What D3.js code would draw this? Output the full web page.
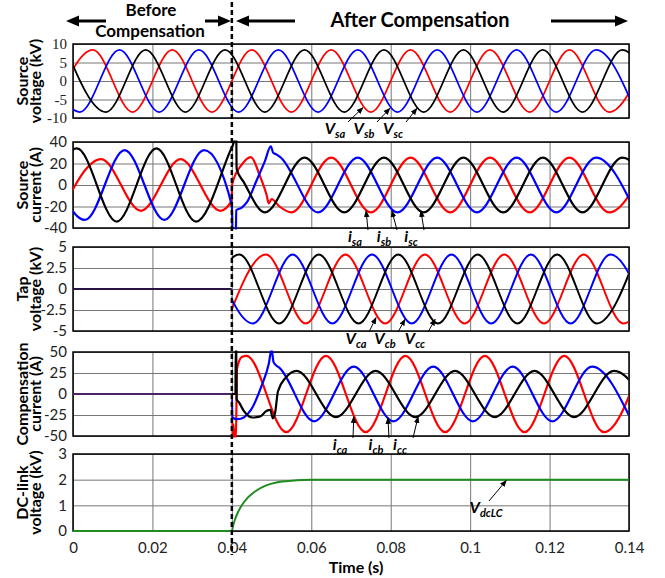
<!DOCTYPE html>
<html>
<head>
<meta charset="utf-8">
<script src="https://cdn.jsdelivr.net/npm/d3@7"></script>
<style>
  body { margin: 0; background: #fff; }
  svg { display: block; }
</style>
</head>
<body>
<main></main>
<script>
// time axis (s)
const TIME_TICKS = [0, 0.02, 0.04, 0.06, 0.08, 0.1, 0.12, 0.14];
const T_SWITCH = 0.04;

// y ticks of the five panels
const VS_TICKS = [-10, -5, 0, 5, 10];
const IS_TICKS = [-40, -20, 0, 20, 40];
const VC_TICKS = [-5, -2.5, 0, 2.5, 5];
const IC_TICKS = [-50, -25, 0, 25, 50];
const VDC_TICKS = [0, 1, 2, 3];

const TITLES = [
  ['Source', 'voltage (kV)'],
  ['Source', 'current (A)'],
  ['Tap', 'voltage (kV)'],
  ['Compensation', 'current (A)'],
  ['DC-link', 'voltage (kV)']
];

// traces given as [t, value] at the peaks / troughs (and transient corners)
const vsa = [[-0.005,-8.4],[0.005,8.4],[0.015,-8.4],[0.025,8.4],[0.035,-8.4],[0.045,8.4],[0.055,-8.4],[0.065,8.4],[0.075,-8.4],[0.085,8.4],[0.095,-8.4],[0.105,8.4],[0.115,-8.4],[0.125,8.4],[0.135,-8.4],[0.145,8.4]];
const vsb = [[-0.0083,8.4],[0.0017,-8.4],[0.0117,8.4],[0.0217,-8.4],[0.0317,8.4],[0.0417,-8.4],[0.0517,8.4],[0.0617,-8.4],[0.0717,8.4],[0.0817,-8.4],[0.0917,8.4],[0.1017,-8.4],[0.1117,8.4],[0.1217,-8.4],[0.1317,8.4],[0.1417,-8.4]];
const vsc = [[-0.0017,8.4],[0.0083,-8.4],[0.0183,8.4],[0.0283,-8.4],[0.0383,8.4],[0.0483,-8.4],[0.0583,8.4],[0.0683,-8.4],[0.0783,8.4],[0.0883,-8.4],[0.0983,8.4],[0.1083,-8.4],[0.1183,8.4],[0.1283,-8.4],[0.1383,8.4],[0.1483,-8.4]];

const isa = [[-0.0029,-24],[0.0071,24],[0.0171,-24],[0.0271,24],[0.0371,-24],[0.0399,-15],[0.0401,1],[0.0425,19],[0.0448,26],[0.047,9],[0.0488,-10],[0.0493,-17],[0.05,-13],[0.052,-20],[0.055,-25.5],[0.065,25.5],[0.075,-25.5],[0.085,25.5],[0.095,-25.5],[0.105,25.5],[0.115,-25.5],[0.125,25.5],[0.135,-25.5],[0.145,25.5]];
const isb = [[-0.007,32.5],[0.003,-32.5],[0.013,32.5],[0.023,-32.5],[0.033,32.5],[0.04,-19],[0.0402,-48],[0.041,-48],[0.0411,-23.5],[0.0425,-21],[0.0438,-16],[0.0462,4],[0.0483,22],[0.0498,36],[0.0504,30],[0.0512,28.5],[0.0522,26],[0.0617,-25.5],[0.0717,25.5],[0.0817,-25.5],[0.0917,25.5],[0.1017,-25.5],[0.1117,25.5],[0.1217,-25.5],[0.1317,25.5],[0.1417,-25.5]];
const isc = [[-0.009,-34],[0.001,34],[0.011,-34],[0.021,34],[0.031,-34],[0.0395,31],[0.0405,40],[0.041,50],[0.0411,50],[0.0412,15],[0.043,2.7],[0.0483,-25.5],[0.0583,25.5],[0.0683,-25.5],[0.0783,25.5],[0.0883,-25.5],[0.0983,25.5],[0.1083,-25.5],[0.1183,25.5],[0.1283,-25.5],[0.1383,25.5],[0.1483,-25.5]];

const zeroPre = [[0,0],[0.04,0]];
const vca = [[0.0386,-4.1],[0.0486,4.1],[0.0586,-4.1],[0.0686,4.1],[0.0786,-4.1],[0.0886,4.1],[0.0986,-4.1],[0.1086,4.1],[0.1186,-4.1],[0.1286,4.1],[0.1386,-4.1],[0.1486,4.1]];
const vcb = [[0.0353,4.1],[0.0453,-4.1],[0.0553,4.1],[0.0653,-4.1],[0.0753,4.1],[0.0853,-4.1],[0.0953,4.1],[0.1053,-4.1],[0.1153,4.1],[0.1253,-4.1],[0.1353,4.1],[0.1453,-4.1]];
const vcc = [[0.0319,-4.1],[0.0419,4.1],[0.0519,-4.1],[0.0619,4.1],[0.0719,-4.1],[0.0819,4.1],[0.0919,-4.1],[0.1019,4.1],[0.1119,-4.1],[0.1219,4.1],[0.1319,-4.1],[0.1419,4.1]];

const ica = [[0,0],[0.04,0],[0.0401,-56],[0.0404,-36],[0.0407,-56],[0.041,-56],[0.0413,30],[0.0425,44],[0.0437,45.5],[0.0537,-45.5],[0.0637,45.5],[0.0737,-45.5],[0.0837,45.5],[0.0937,-45.5],[0.1037,45.5],[0.1137,-45.5],[0.1237,45.5],[0.1337,-45.5],[0.1437,45.5]];
const icb = [[0,0],[0.04,0],[0.0401,-28],[0.0415,-30],[0.043,-28],[0.0448,-19],[0.0475,10],[0.0493,36],[0.05,53],[0.0505,38],[0.0512,34],[0.052,31],[0.0607,-32.5],[0.0707,32.5],[0.0807,-32.5],[0.0907,32.5],[0.1007,-32.5],[0.1107,32.5],[0.1207,-32.5],[0.1307,32.5],[0.1407,-32.5]];
const icc = [[0,0],[0.04,0],[0.0409,0],[0.041,56],[0.0411,56],[0.0412,-6],[0.0418,-10],[0.043,-20],[0.0452,-28],[0.047,-27],[0.0488,-20],[0.0497,-19],[0.0503,-29],[0.0509,-22],[0.0516,3],[0.0535,19],[0.0563,27.5],[0.0662,-27.5],[0.0762,27.5],[0.0862,-27.5],[0.0962,27.5],[0.1062,-27.5],[0.1162,27.5],[0.1262,-27.5],[0.1362,27.5],[0.1462,-27.5]];

const vdc = [[0,0],[0.04,0],[0.0403,0.2],[0.0408,0.45],[0.0415,0.72],[0.0425,1.0],[0.044,1.3],[0.046,1.56],[0.0485,1.77],[0.0515,1.9],[0.055,1.96],[0.06,2.0],[0.14,2.0]];

const RED = '#ff0000', BLUE = '#0000ff', BLACK = '#000000', GREEN = '#1e8c1e', IDLE = '#2a1242';
const SANS = 'Lato, "Open Sans", sans-serif';

const panels = [
  { ticks: VS_TICKS, top: 44, bottom: 118, serif: true, lw: 1.8,
    series: [{ d: vsa, c: RED }, { d: vsb, c: BLUE }, { d: vsc, c: BLACK }],
    anno: { main: 'V', subs: ['sa', 'sb', 'sc'], lx: [335, 364, 393], ly: 134,
            tips: [[0.0730, -7.2], [0.0798, -7.4], [0.0866, -7.4]] } },
  { ticks: IS_TICKS, top: 142, bottom: 228, lw: 2.2,
    series: [{ d: isa, c: RED }, { d: isb, c: BLUE }, { d: isc, c: BLACK }],
    anno: { main: 'i', subs: ['sa', 'sb', 'sc'], lx: [355, 384, 411], ly: 242,
            tips: [[0.0738, -24], [0.0803, -24], [0.0876, -24]] } },
  { ticks: VC_TICKS, top: 247, bottom: 331, lw: 2,
    series: [{ d: zeroPre, c: IDLE, clip: 'pre' },
             { d: vca, c: RED, clip: 'post' }, { d: vcb, c: BLUE, clip: 'post' }, { d: vcc, c: BLACK, clip: 'post' }],
    anno: { main: 'V', subs: ['ca', 'cb', 'cc'], lx: [356, 385, 415], ly: 344,
            tips: [[0.0763, -3.4], [0.0836, -3.6], [0.0912, -3.6]] } },
  { ticks: IC_TICKS, top: 352, bottom: 436, lw: 2.2,
    series: [{ d: ica, c: RED, clip: 'post' }, { d: icb, c: BLUE, clip: 'post' }, { d: icc, c: BLACK, clip: 'post' },
             { d: zeroPre, c: '#4a2466', clip: 'pre' }],
    anno: { main: 'i', subs: ['ca', 'cb', 'cc'], lx: [340, 376, 400], ly: 450,
            tips: [[0.0707, -27], [0.0793, -28], [0.0869, -27]] } },
  { ticks: VDC_TICKS, top: 454, bottom: 531, lw: 2,
    series: [{ d: vdc, c: GREEN }],
    anno: { main: 'V', subs: ['dcLC'], lx: [486], ly: 513, tips: [[0.1091, 1.97]] } }
];

const W = 665, H = 578;
const svg = d3.select('main').append('svg')
    .attr('width', W)
    .attr('height', H);

const defs = svg.append('defs');
defs.append('marker')
    .attr('id', 'tip')
    .attr('viewBox', '0 0 10 10')
    .attr('refX', 9).attr('refY', 5)
    .attr('markerWidth', 7).attr('markerHeight', 7)
    .attr('orient', 'auto')
  .append('path')
    .attr('d', 'M0,1L10,5L0,9z')
    .attr('fill', '#000');

const x = d3.scaleLinear().domain([0, 0.14]).range([73, 629]);
const clipSpans = { all: [0, 0.14], pre: [0, T_SWITCH], post: [T_SWITCH, 0.14] };

panels.forEach((p, i) => {
  const y = d3.scaleLinear().domain(d3.extent(p.ticks)).range([p.bottom, p.top]);
  const h = p.bottom - p.top;
  const g = svg.append('g').attr('class', 'panel');

  Object.entries(clipSpans).forEach(([k, [a, b]]) => {
    defs.append('clipPath').attr('id', `clip${i}${k}`)
      .append('rect')
        .attr('x', x(a) - (k === 'post' ? 0.5 : 0)).attr('width', x(b) - x(a))
        .attr('y', p.top - 1.5).attr('height', h + 3);
  });

  // grid
  const gx = g.append('g')
      .attr('transform', `translate(0, ${p.bottom})`)
      .call(d3.axisBottom(x).tickValues(TIME_TICKS).tickSize(-h).tickFormat(''));
  gx.select('.domain').remove();
  gx.selectAll('line').attr('stroke', '#777').attr('stroke-width', 1);

  const gy = g.append('g')
      .attr('transform', `translate(${x(0)}, 0)`)
      .call(d3.axisLeft(y).tickValues(p.ticks).tickSize(-(x(0.14) - x(0))).tickPadding(6).tickFormat(d => String(d)));
  gy.select('.domain').remove();
  gy.selectAll('line').attr('stroke', '#777').attr('stroke-width', 1);
  gy.attr('font-family', p.serif ? '"Liberation Serif", "Times New Roman", serif' : SANS)
    .attr('font-size', 15);
  gy.selectAll('text').attr('fill', '#222');

  // frame
  g.append('rect')
      .attr('x', x(0)).attr('y', p.top)
      .attr('width', x(0.14) - x(0)).attr('height', h)
      .attr('fill', 'none').attr('stroke', '#000').attr('stroke-width', 1.5);

  // traces
  const line = d3.line()
      .x(d => x(d[0]))
      .y(d => y(d[1]))
      .curve(d3.curveMonotoneX);

  p.series.forEach(s => {
    g.append('path')
        .attr('d', line(s.d))
        .attr('clip-path', `url(#clip${i}${s.clip || 'all'})`)
        .attr('fill', 'none')
        .attr('stroke', s.c)
        .attr('stroke-width', p.lw)
        .attr('stroke-linejoin', 'round');
  });

  // y title
  const cy = (p.top + p.bottom) / 2;
  const title = g.append('text')
      .attr('transform', `translate(0, ${cy}) rotate(-90)`)
      .attr('text-anchor', 'middle')
      .attr('font-family', SANS)
      .attr('font-weight', 'bold')
      .attr('font-size', 16);
  title.append('tspan').attr('x', 0).attr('y', 28).text(TITLES[i][0]);
  title.append('tspan').attr('x', 0).attr('y', 41).text(TITLES[i][1]);

  // phase labels with arrows
  const a = p.anno;
  a.subs.forEach((sub, j) => {
    const t = g.append('text')
        .attr('x', a.lx[j]).attr('y', a.ly)
        .attr('text-anchor', 'middle')
        .attr('font-family', SANS)
        .attr('font-weight', 'bold')
        .attr('font-style', 'italic');
    t.append('tspan').attr('font-size', 16).text(a.main);
    t.append('tspan').attr('font-size', 11).attr('dy', 4).text(sub);

    const tx = x(a.tips[j][0]), ty = y(a.tips[j][1]);
    g.append('line')
        .attr('x1', a.lx[j] + (sub.length > 2 ? 3 : 13)).attr('y1', a.ly - 12)
        .attr('x2', tx).attr('y2', ty)
        .attr('stroke', '#000').attr('stroke-width', 1)
        .attr('marker-end', 'url(#tip)');
  });

  // time axis under the last panel
  if (i === panels.length - 1) {
    const ax = g.append('g')
        .attr('transform', `translate(0, ${p.bottom})`)
        .call(d3.axisBottom(x).tickValues(TIME_TICKS).tickSize(0).tickPadding(11).tickFormat(d => String(d)));
    ax.select('.domain').remove();
    ax.attr('font-family', SANS).attr('font-size', 15);
    ax.selectAll('text').attr('fill', '#222');

    svg.append('text')
        .attr('x', 356).attr('y', 573)
        .attr('text-anchor', 'middle')
        .attr('font-family', SANS)
        .attr('font-weight', 'bold')
        .attr('font-size', 16)
        .text('Time (s)');
  }
});

// header: before / after compensation
const head = svg.append('g')
    .attr('font-family', SANS)
    .attr('font-weight', 'bold')
    .attr('text-anchor', 'middle');
head.append('text').attr('x', 151).attr('y', 16).attr('font-size', 17).text('Before');
head.append('text').attr('x', 150).attr('y', 37).attr('font-size', 17).text('Compensation');
head.append('text').attr('x', 420).attr('y', 27).attr('font-size', 20).text('After Compensation');

const arrows = [[106, 66], [205, 231], [295, 236], [551, 628]];
arrows.forEach(([from, to]) => {
  const dir = Math.sign(to - from);
  head.append('line')
      .attr('x1', from).attr('x2', to - dir * 10)
      .attr('y1', 21).attr('y2', 21)
      .attr('stroke', '#000').attr('stroke-width', 3);
  head.append('path')
      .attr('d', `M${to},21L${to - dir * 13},15.5L${to - dir * 13},26.5Z`)
      .attr('fill', '#000');
});

// switching instant
svg.append('line')
    .attr('x1', x(T_SWITCH)).attr('x2', x(T_SWITCH))
    .attr('y1', 2).attr('y2', 555)
    .attr('stroke', '#000')
    .attr('stroke-width', 2.5)
    .attr('stroke-dasharray', '5,3');
</script>
</body>
</html>
